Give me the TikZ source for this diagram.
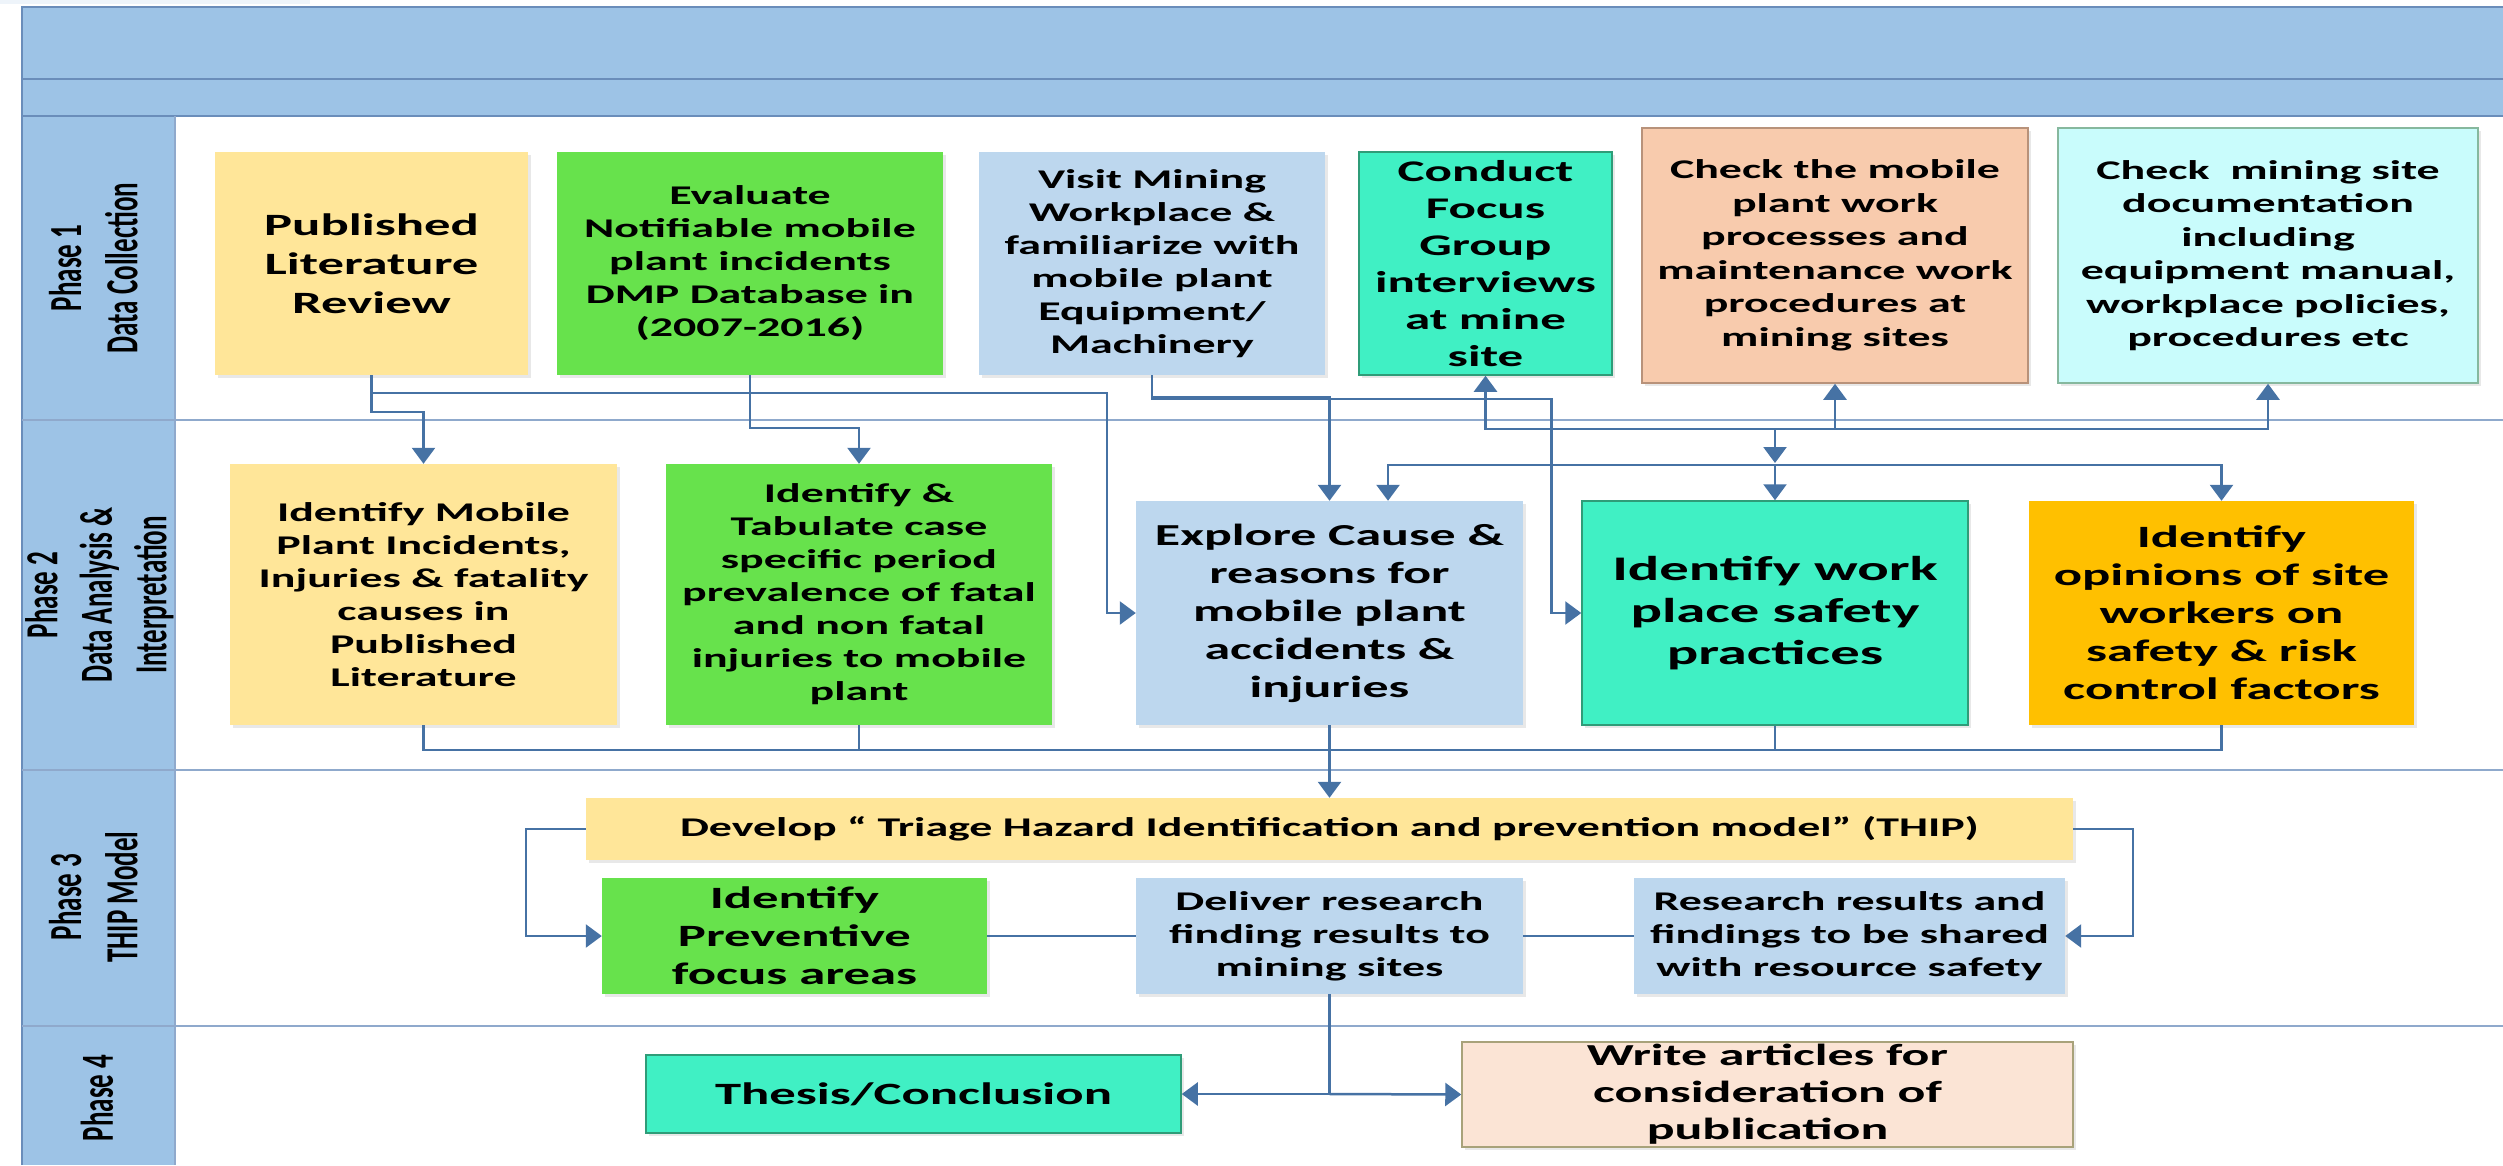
\documentclass[tikz,border=0pt]{standalone}
\usepackage{fontspec}
\setmainfont[FakeStretch=1.7]{Carlito}
\newfontfamily\plainfont{Carlito}
\usetikzlibrary{arrows.meta,shadows}
\definecolor{hdr}{HTML}{9DC3E6}
\definecolor{hdrline}{HTML}{6A8DBA}
\definecolor{laneC}{HTML}{8FA9CC}
\definecolor{connC}{HTML}{4672A4}
\definecolor{yel}{HTML}{FFE699}
\definecolor{grn}{HTML}{67E24C}
\definecolor{lblue}{HTML}{BDD7EE}
\definecolor{aqua}{HTML}{40F0C4}
\definecolor{aquaB}{HTML}{2F9C78}
\definecolor{peach}{HTML}{F8CBAD}
\definecolor{peachB}{HTML}{B8927A}
\definecolor{cyanL}{HTML}{C9FCFC}
\definecolor{cyanB}{HTML}{86B89E}
\definecolor{orng}{HTML}{FFC000}
\definecolor{lpeach}{HTML}{FBE4D5}
\definecolor{lpeachB}{HTML}{A8A27A}
\definecolor{pale}{HTML}{EEF4FA}
\begin{document}
\begin{tikzpicture}[x=1pt,y=-1pt,
  box/.style={inner sep=0pt, align=center, text=black,
    drop shadow={shadow xshift=3pt,shadow yshift=-3pt,opacity=0.18}},
  f27/.style={font=\bfseries\fontsize{27}{33}\selectfont},
  plbl/.style={rotate=90, inner sep=0pt, text=black,
    font=\plainfont\bfseries\fontsize{27}{33}\selectfont},
  lane/.style={draw=laneC, line width=1.8pt},
  conn/.style={draw=connC, line width=2.5pt},
  arr/.style={conn, -{Triangle[length=16pt,width=23pt]}}
]
\useasboundingbox (0,0) rectangle (2503,1165);
% frame
\fill[pale] (0,0) rectangle (310,4);
\fill[hdr] (22,7) rectangle (2503,116);
\fill[hdr] (22,116) rectangle (175,1165);
\draw[hdrline, line width=1.8pt] (22,1165) -- (22,7) -- (2503,7);
\draw[hdrline, line width=1.8pt] (22,79) -- (2503,79);
\draw[hdrline, line width=1.8pt] (22,116) -- (2503,116);
\draw[laneC, line width=1.2pt] (175,116) -- (175,1165);
\draw[lane] (22,420) -- (2503,420);
\draw[lane] (22,770) -- (2503,770);
\draw[lane] (22,1026) -- (2503,1026);

% phase labels
\node[plbl] (p1) at (98,268) {\scalebox{1}[1.7]{\begin{tabular}{@{}c@{}}Phase 1\\Data Collection\end{tabular}}};
\node[plbl, font=\plainfont\bfseries\fontsize{27}{32}\selectfont] (p2) at (101,595) {\scalebox{1}[1.7]{\begin{tabular}{@{}c@{}}Phase 2\\Data Analysis \&\\Interpretation\end{tabular}}};
\node[plbl] (p3) at (98,897) {\scalebox{1}[1.7]{\begin{tabular}{@{}c@{}}Phase 3\\THIP Model\end{tabular}}};
\node[plbl] (p4) at (97,1098) {\scalebox{1}[1.7]{Phase 4}};

% Phase 1 boxes
\node[box, fill=yel, minimum width=313pt, minimum height=223pt,
  font=\bfseries\fontsize{31}{39}\selectfont] (lit) at (371.5,263.5)
  {Published\\Literature\\Review};
\node[box, f27, fill=grn, minimum width=386pt, minimum height=223pt] (eval) at (750,263.5)
  {Evaluate\\Notifiable mobile\\plant incidents\\DMP Database in\\(2007-2016)};
\node[box, f27, fill=lblue, minimum width=346pt, minimum height=223pt] (visit) at (1152,263.5)
  {Visit Mining\\Workplace \&\\familiarize with\\mobile plant\\Equipment/\\Machinery};
\node[box, fill=aqua, draw=aquaB, line width=1.5pt, minimum width=253pt, minimum height=223pt,
  font=\bfseries\fontsize{30}{37}\selectfont] (focus) at (1485.5,263.5)
  {Conduct\\Focus\\Group\\interviews\\at mine\\site};
\node[box, fill=peach, draw=peachB, line width=1.5pt, minimum width=386pt, minimum height=255pt,
  font=\bfseries\fontsize{27}{33.5}\selectfont] (checkmob) at (1835,255.5)
  {Check the mobile\\plant work\\processes and\\maintenance work\\procedures at\\mining sites};
\node[box, fill=cyanL, draw=cyanB, line width=1.5pt, minimum width=420pt, minimum height=255pt,
  font=\bfseries\fontsize{27}{33.5}\selectfont] (checkdoc) at (2268,255.5)
  {Check\ \ mining site\\documentation\\including\\equipment manual,\\workplace policies,\\procedures etc};

% Phase 2 boxes
\node[box, f27, fill=yel, minimum width=387pt, minimum height=261pt] (idmob) at (423.5,594.5)
  {Identify Mobile\\Plant Incidents,\\Injuries \& fatality\\causes in\\Published\\Literature};
\node[box, f27, fill=grn, minimum width=386pt, minimum height=261pt] (tab) at (859,594.5)
  {Identify \&\\Tabulate case\\specific period\\prevalence of fatal\\and non fatal\\injuries to mobile\\plant};
\node[box, fill=lblue, minimum width=387pt, minimum height=224pt,
  font=\bfseries\fontsize{30.5}{38}\selectfont] (explore) at (1329.5,613)
  {Explore Cause \&\\reasons for\\mobile plant\\accidents \&\\injuries};
\node[box, fill=aqua, draw=aquaB, line width=1.5pt, minimum width=386pt, minimum height=224pt,
  font=\bfseries\fontsize{34.5}{42}\selectfont] (idwork) at (1775,613)
  {Identify work\\place safety\\practices};
\node[box, fill=orng, minimum width=385pt, minimum height=224pt,
  font=\bfseries\fontsize{31}{38}\selectfont] (opin) at (2221.5,613)
  {Identify\\opinions of site\\workers on\\safety \& risk\\control factors};

% Phase 3 boxes
\node[box, f27, fill=yel, minimum width=1487pt, minimum height=62pt] (thip) at (1329.5,829)
  {Develop “ Triage Hazard Identification and prevention model” (THIP)};
\node[box, fill=grn, minimum width=385pt, minimum height=116pt,
  font=\bfseries\fontsize{31}{38}\selectfont] (prev) at (794.5,936)
  {Identify\\Preventive\\focus areas};
\node[box, f27, fill=lblue, minimum width=387pt, minimum height=116pt] (deliver) at (1329.5,936)
  {Deliver research\\finding results to\\mining sites};
\node[box, f27, fill=lblue, minimum width=431pt, minimum height=116pt] (research) at (1849.5,936)
  {Research results and\\findings to be shared\\with resource safety};

% Phase 4 boxes
\node[box, fill=aqua, draw=aquaB, line width=1.5pt, minimum width=535pt, minimum height=78pt,
  font=\bfseries\fontsize{31}{38}\selectfont] (thesis) at (913.5,1094)
  {Thesis/Conclusion};
\node[box, fill=lpeach, draw=lpeachB, line width=1.5pt, minimum width=611pt, minimum height=105pt,
  font=\bfseries\fontsize{30.5}{37}\selectfont] (write) at (1767.5,1094.5)
  {Write articles for\\consideration of\\publication};

% junction coordinates
\coordinate (hub) at (1775,429);
\coordinate (bus2) at (1775,465);
\coordinate (bus3) at (1329.5,750);
\coordinate (split) at (1329.5,1094);

% Phase 1 -> Phase 2 connectors
\draw[arr] (lit.south) -- ++(0,37) -| (idmob.north);
\draw[arr] (lit.south) -- ++(0,18) -| ([xshift=-29pt]explore.west) -- (explore.west);
\draw[arr] (eval.south) -- ++(0,53) -| (tab.north);
\draw[arr] (visit.south) -- ++(0,22) -| (explore.north);
\draw[arr] (visit.south) -- ++(0,24) -| ([xshift=-30pt]idwork.west) -- (idwork.west);
\draw[arr] (hub) -| (focus.south);
\draw[arr] (hub) -| (checkmob.south);
\draw[arr] (hub) -| (checkdoc.south);
\draw[arr] (hub) -- ([yshift=2pt]bus2);
\draw[arr] (bus2) -- (idwork.north);
\draw[arr] (bus2) -| ([xshift=58.5pt]explore.north);
\draw[arr] (bus2) -| (opin.north);

% Phase 2 -> Phase 3
\draw[conn] (idmob.south) |- (bus3);
\draw[conn] (tab.south) -- ++(0,25);
\draw[conn] (idwork.south) |- (bus3);
\draw[conn] (opin.south) |- (bus3);
\draw[arr] (explore.south) -- (thip.north);

% Phase 3
\draw[arr] (thip.west) -- ++(-60,0) |- (prev.west);
\draw[arr] (thip.east) -- ++(60,0) |- (research.east);
\draw[conn] (prev.east) -- (deliver.west);
\draw[conn] (deliver.east) -- (research.west);

% Phase 3 -> Phase 4
\draw[conn] (deliver.south) -- (split);
\draw[arr] (split) -- (thesis.east);
\draw[arr] (split) -- (write.west);
\end{tikzpicture}
\end{document}
